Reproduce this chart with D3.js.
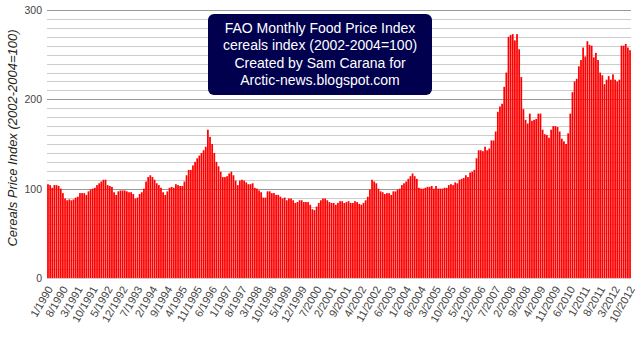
<!DOCTYPE html>
<html>
<head>
<meta charset="utf-8">
<script src="https://cdn.jsdelivr.net/npm/d3@7/dist/d3.min.js"></script>
<style>
  html, body { margin: 0; padding: 0; background: #fff; }
  svg { display: block; }
  text { font-family: "Liberation Sans", Arial, sans-serif; }
</style>
</head>
<body>
<svg id="chart" width="640" height="340"></svg>
<script>
// ---- data (FAO cereals price index, 2002-2004 = 100), monthly from 1/1990 ----
const startYear = 1990;
const values = [
  105,104,101,104,104,103,100,95,89,87,88,87,
  88,90,91,95,95,95,93,97,99,100,101,104,
  106,108,110,110,104,103,102,96,93,97,98,98,
  98,97,96,96,94,89,90,94,96,100,108,113,
  115,113,110,106,104,101,96,93,97,101,102,101,
  105,104,103,103,108,115,121,121,126,130,134,137,
  140,143,147,166,158,150,140,130,125,119,113,113,
  114,117,119,115,109,104,109,110,109,107,105,105,
  106,101,100,98,96,90,90,97,97,95,95,93,
  93,91,89,90,87,89,89,87,84,85,87,87,
  85,85,85,82,77,76,80,84,87,89,89,87,
  85,84,84,82,84,86,86,84,85,86,84,84,
  86,85,83,82,84,87,91,99,110,108,106,100,
  97,96,94,95,95,93,97,97,99,100,104,106,
  108,111,114,117,114,111,101,100,100,101,102,102,
  103,100,103,100,100,100,101,101,104,105,104,107,
  106,110,111,112,115,113,118,119,121,134,143,143,
  142,147,143,145,154,154,164,186,192,195,214,230,
  270,272,273,266,273,256,225,189,177,173,184,176,
  177,178,184,184,166,161,160,157,166,170,170,169,
  164,156,153,150,162,184,208,220,223,237,244,258,
  248,265,261,260,247,252,244,230,227,217,222,226,
  222,228,222,220,222,260,260,262,258,255
];
const categories = values.map((v, i) => `${(i % 12) + 1}/${startYear + Math.floor(i / 12)}`);
const tickLabels = [
  "1/1990","8/1990","3/1991","10/1991","5/1992","12/1992","7/1993","2/1994",
  "9/1994","4/1995","11/1995","6/1996","1/1997","8/1997","3/1998","10/1998",
  "5/1999","12/1999","7/2000","2/2001","9/2001","4/2002","11/2002","6/2003",
  "1/2004","8/2004","3/2005","10/2005","5/2006","12/2006","7/2007","2/2008",
  "9/2008","4/2009","11/2009","6/2010","1/2011","8/2011","3/2012","10/2012"
];
const yMajorTicks = [0, 100, 200, 300];
const yMinorTicks = d3.range(0, 301, 10);
const titleLines = [
  "FAO Monthly Food Price Index",
  "cereals index (2002-2004=100)",
  "Created by Sam Carana for",
  "Arctic-news.blogspot.com"
];
const yTitle = "Cereals Price Index (2002-2004=100)";

// ---- layout ----
const plotLeft = 47, plotRight = 631, plotTop = 10, plotBottom = 278;
const svg = d3.select("#chart");

const x = d3.scaleBand().domain(categories).range([plotLeft, plotRight]).paddingInner(0.18).paddingOuter(0.05);
const y = d3.scaleLinear().domain([0, 300]).range([plotBottom, plotTop]);

// gridlines
svg.append("g").selectAll("line").data(yMinorTicks.filter(t => t % 100 !== 0)).join("line")
  .attr("x1", plotLeft).attr("x2", plotRight)
  .attr("y1", d => Math.round(y(d)) + 0.5).attr("y2", d => Math.round(y(d)) + 0.5)
  .attr("stroke", "#cccccc").attr("stroke-width", 1);
svg.append("g").selectAll("line").data(yMajorTicks.filter(t => t > 0)).join("line")
  .attr("x1", plotLeft).attr("x2", plotRight)
  .attr("y1", d => Math.round(y(d)) + 0.5).attr("y2", d => Math.round(y(d)) + 0.5)
  .attr("stroke", "#999999").attr("stroke-width", 1);

// bars
svg.append("g").selectAll("rect").data(values).join("rect")
  .attr("x", (d, i) => x(categories[i]))
  .attr("width", x.bandwidth())
  .attr("y", d => y(d))
  .attr("height", d => y(0) - y(d))
  .attr("fill", "#ff0000");

// baseline
svg.append("line")
  .attr("x1", plotLeft).attr("x2", plotRight)
  .attr("y1", Math.round(y(0)) + 0.5).attr("y2", Math.round(y(0)) + 0.5)
  .attr("stroke", "#cccccc");

// y axis
const yAxis = d3.axisLeft(y).tickValues(yMajorTicks).tickSize(0).tickPadding(5).tickFormat(d3.format("d"));
const gy = svg.append("g").attr("transform", `translate(${plotLeft},0)`).call(yAxis);
gy.select(".domain").remove();
gy.selectAll("text").attr("font-size", 10.5).attr("fill", "#444")
  .attr("font-family", "Liberation Sans, Arial, sans-serif");

// x axis
const xAxis = d3.axisBottom(x).tickValues(tickLabels).tickSize(0).tickPadding(0);
const gx = svg.append("g").attr("transform", `translate(0,${plotBottom})`).call(xAxis);
gx.select(".domain").remove();
gx.selectAll("text")
  .attr("font-size", 11).attr("fill", "#444")
  .attr("font-family", "Liberation Sans, Arial, sans-serif")
  .attr("text-anchor", "end")
  .attr("dy", "0.35em")
  .attr("transform", "translate(2,9) rotate(-60)");

// y title
svg.append("text")
  .attr("transform", "translate(17,138) rotate(-90)")
  .attr("text-anchor", "middle")
  .attr("font-size", 13)
  .attr("font-style", "italic")
  .attr("fill", "#222")
  .text(yTitle);

// title box
svg.append("rect")
  .attr("x", 208).attr("y", 14).attr("width", 224).attr("height", 81)
  .attr("rx", 6).attr("ry", 6)
  .attr("fill", "#00004f");
svg.append("g").selectAll("text").data(titleLines).join("text")
  .attr("x", 320)
  .attr("y", (d, i) => 32.5 + i * 17.5)
  .attr("text-anchor", "middle")
  .attr("font-size", 14)
  .attr("fill", "#ffffff")
  .text(d => d);
</script>
</body>
</html>
